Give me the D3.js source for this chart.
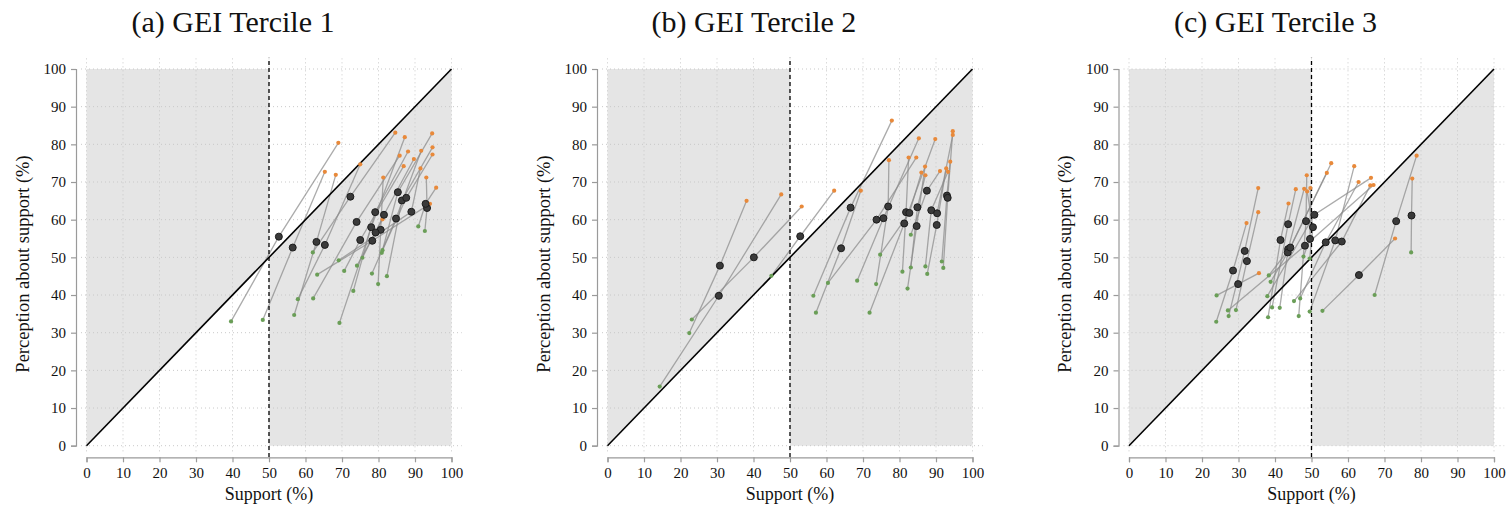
<!DOCTYPE html>
<html>
<head>
<meta charset="utf-8">
<script src="https://cdn.jsdelivr.net/npm/d3@7"></script>
<style>
  body { margin: 0; background: #fff; }
  svg text { font-family: "Liberation Serif", "DejaVu Serif", serif; fill: #111; }
</style>
</head>
<body>
<div id="chart"></div>
<script>
// Panel titles
const titles = ['(a) GEI Tercile 1', '(b) GEI Tercile 2', '(c) GEI Tercile 3'];
const ticks = [0, 10, 20, 30, 40, 50, 60, 70, 80, 90, 100];

// Tercile 1: [support, perception] for green, black (mean), orange points
const t1Green = [[39.6,33.0],[48.3,33.4],[56.9,34.7],[57.9,38.9],[62.0,51.3],[62.1,39.1],[79.9,42.9],[92.7,57.0],[63.2,45.4],[90.9,58.2],
                 [69.1,49.2],[70.6,46.4],[69.3,32.6],[73.1,41.1],[74.1,47.8],[75.6,49.9],[78.2,45.7],[80.9,51.2],[82.3,45.0],[81.1,51.9]];
const t1Black = [[52.7,55.5],[56.5,52.6],[63.0,54.1],[65.3,53.3],[72.3,66.1],[74.0,59.4],[80.6,57.3],[93.3,63.1],[78.3,54.4],[92.9,64.2],
                 [89.0,62.1],[75.0,54.6],[78.0,58.0],[79.1,62.0],[79.2,56.6],[81.5,61.3],[84.8,60.3],[85.3,67.3],[86.4,65.1],[87.6,65.8]];
const t1Orange = [[69.0,80.4],[65.3,72.7],[68.3,71.9],[75.0,74.7],[84.6,83.1],[85.8,77.0],[81.3,71.2],[93.1,71.2],[94.1,64.2],[95.8,68.5],
                  [91.5,73.6],[86.9,74.2],[87.2,81.9],[88.1,78.1],[81.1,60.1],[89.7,76.1],[91.7,78.3],[94.7,82.9],[94.8,79.2],[94.8,77.3]];

// Tercile 2
const t2Green = [[22.4,29.9],[14.3,15.7],[23.1,33.5],[44.9,45.1],[56.4,39.8],[57.1,35.3],[60.4,43.2],[68.4,43.8],[71.8,35.3],[73.6,42.9],
                 [80.8,46.2],[82.2,41.7],[87.6,45.6],[91.6,48.9],[92.0,47.2],[74.7,50.7],[83.1,47.3],[83.1,56.0],[87.1,47.6],[89.0,62.7]];
const t2Black = [[30.8,47.8],[30.5,39.8],[40.1,50.0],[52.8,55.6],[66.6,63.2],[64.0,52.4],[73.7,60.0],[75.6,60.4],[81.3,59.0],[76.9,63.5],
                 [81.8,62.0],[84.7,58.3],[90.2,58.6],[93.0,66.4],[93.2,65.8],[82.7,61.8],[84.9,63.3],[87.5,67.7],[88.7,62.5],[90.3,61.7]];
const t2Orange = [[38.1,65.0],[47.6,66.7],[53.2,63.5],[62.1,67.7],[77.9,86.3],[69.4,67.7],[84.6,76.5],[85.3,81.6],[89.8,81.4],[77.1,75.8],
                  [82.5,76.5],[87.0,74.1],[92.8,73.6],[93.9,75.4],[94.6,83.5],[86.0,72.5],[87.1,71.8],[91.1,72.9],[93.3,72.7],[94.6,82.5]];

// Tercile 3
const t3Green = [[67.3,40.0],[77.3,51.3],[53.0,35.8],[49.5,35.6],[46.9,39.1],[45.2,38.4],[24.0,39.9],[27.1,35.9],[23.9,32.9],[27.3,34.4],
                 [29.3,36.0],[38.1,34.1],[39.2,36.7],[41.3,36.6],[38.8,43.5],[38.3,45.2],[46.5,34.4],[47.8,50.2],[49.5,49.7],[37.9,39.7]];
const t3Black = [[73.2,59.6],[77.4,61.1],[63.0,45.3],[56.5,54.5],[53.9,54.0],[58.3,54.2],[29.9,42.9],[48.2,53.1],[28.5,46.5],[31.7,51.7],
                 [32.3,49.0],[41.5,54.6],[43.6,58.8],[43.6,52.2],[43.5,51.3],[44.2,52.6],[48.5,59.6],[49.6,54.9],[50.4,58.0],[50.8,61.3]];
const t3Orange = [[78.8,77.0],[77.6,70.9],[72.9,55.0],[61.7,74.2],[62.9,70.0],[66.1,69.1],[35.6,45.8],[67.0,69.2],[32.2,59.1],[35.4,68.4],
                  [35.4,62.0],[43.7,64.3],[45.7,68.1],[48.0,68.2],[54.2,72.4],[55.4,75.0],[48.7,71.8],[49.7,68.4],[48.8,67.5],[66.3,71.1]];

const panels = [
    { title: titles[0], green: t1Green, black: t1Black, orange: t1Orange },
    { title: titles[1], green: t2Green, black: t2Black, orange: t2Orange },
    { title: titles[2], green: t3Green, black: t3Black, orange: t3Orange }
];

const width = 1509, height = 509;
const panelLeft = [86.5, 607.5, 1129];
const plotW = 365;
const yBottom = 445.7, yTop = 69;
const serif = '"Liberation Serif", "DejaVu Serif", serif';

const svg = d3.select('#chart').append('svg')
    .attr('width', width)
    .attr('height', height)
    .attr('font-family', serif);

panels.forEach((p, i) => {
    const x = d3.scaleLinear().domain([0, 100]).range([panelLeft[i], panelLeft[i] + plotW]);
    const y = d3.scaleLinear().domain([0, 100]).range([yBottom, yTop]);
    const g = svg.append('g');

    // Shaded misperception regions
    const area = d3.line().x(d => x(d[0])).y(d => y(d[1]));
    g.append('path')
        .attr('d', area([[0, 0], [0, 100], [50, 100], [50, 50]]) + 'Z')
        .attr('fill', '#e5e5e5');
    g.append('path')
        .attr('d', area([[50, 50], [50, 0], [100, 0], [100, 100]]) + 'Z')
        .attr('fill', '#e5e5e5');

    // Dotted grid
    const grid = g.append('g')
        .attr('stroke', '#c8c8c8')
        .attr('stroke-width', 1)
        .attr('stroke-dasharray', '1,3');
    grid.selectAll('.h').data(ticks).enter().append('line')
        .attr('x1', x(-1.5)).attr('x2', x(102.8))
        .attr('y1', d => y(d)).attr('y2', d => y(d));
    grid.selectAll('.v').data(ticks).enter().append('line')
        .attr('x1', d => x(d)).attr('x2', d => x(d))
        .attr('y1', y(-1.5)).attr('y2', y(102.8));

    // Connecting lines: green -> mean -> orange
    const conn = d3.line().x(d => x(d[0])).y(d => y(d[1]));
    g.append('g').selectAll('path')
        .data(p.black.map((b, k) => [p.green[k], b, p.orange[k]]))
        .enter().append('path')
        .attr('d', conn)
        .attr('fill', 'none')
        .attr('stroke', '#8a8a8a')
        .attr('stroke-opacity', 0.72)
        .attr('stroke-width', 1.3);

    // 45 degree line
    g.append('line')
        .attr('x1', x(0)).attr('y1', y(0))
        .attr('x2', x(100)).attr('y2', y(100))
        .attr('stroke', '#000')
        .attr('stroke-width', 1.6);

    // 50% dashed line
    g.append('line')
        .attr('x1', x(50)).attr('x2', x(50))
        .attr('y1', y(-3)).attr('y2', y(103))
        .attr('stroke', '#000')
        .attr('stroke-width', 1.3)
        .attr('stroke-dasharray', '4,3');

    // Dots
    g.append('g').selectAll('circle')
        .data(p.green).enter().append('circle')
        .attr('cx', d => x(d[0])).attr('cy', d => y(d[1]))
        .attr('r', 2.1)
        .attr('fill', '#6a9e57');
    g.append('g').selectAll('circle')
        .data(p.orange).enter().append('circle')
        .attr('cx', d => x(d[0])).attr('cy', d => y(d[1]))
        .attr('r', 2.1)
        .attr('fill', '#e8893a');
    g.append('g').selectAll('circle')
        .data(p.black).enter().append('circle')
        .attr('cx', d => x(d[0])).attr('cy', d => y(d[1]))
        .attr('r', 3.5)
        .attr('fill', '#3a3a3a')
        .attr('stroke', '#1c1c1c')
        .attr('stroke-width', 1);

    // X axis
    const xAxis = g.append('g')
        .attr('transform', `translate(0,457.3)`)
        .call(d3.axisBottom(x).tickValues(ticks).tickSize(5).tickPadding(5))
        .attr('font-family', serif);
    xAxis.select('.domain').attr('stroke', '#9a9a9a').attr('stroke-width', 1.2);
    xAxis.selectAll('.tick line').attr('stroke', '#9a9a9a').attr('stroke-width', 1.2);
    xAxis.selectAll('.tick text').attr('font-size', 15).attr('fill', '#111');

    // Y axis
    const yAxis = g.append('g')
        .attr('transform', `translate(${panelLeft[i] - 10.5},0)`)
        .call(d3.axisLeft(y).tickValues(ticks).tickSize(5).tickPadding(5))
        .attr('font-family', serif);
    yAxis.select('.domain').attr('stroke', '#9a9a9a').attr('stroke-width', 1.2);
    yAxis.selectAll('.tick line').attr('stroke', '#9a9a9a').attr('stroke-width', 1.2);
    yAxis.selectAll('.tick text').attr('font-size', 15).attr('fill', '#111');

    // Titles and axis labels
    g.append('text')
        .attr('x', x(50) - 36).attr('y', 32)
        .attr('text-anchor', 'middle')
        .attr('font-size', 30)
        .text(p.title);
    g.append('text')
        .attr('x', x(50)).attr('y', 500)
        .attr('text-anchor', 'middle')
        .attr('font-size', 18)
        .text('Support (%)');
    g.append('text')
        .attr('transform', `translate(${panelLeft[i] - 58},264) rotate(-90)`)
        .attr('text-anchor', 'middle')
        .attr('font-size', 18.5)
        .text('Perception about support (%)');
});
</script>
</body>
</html>
